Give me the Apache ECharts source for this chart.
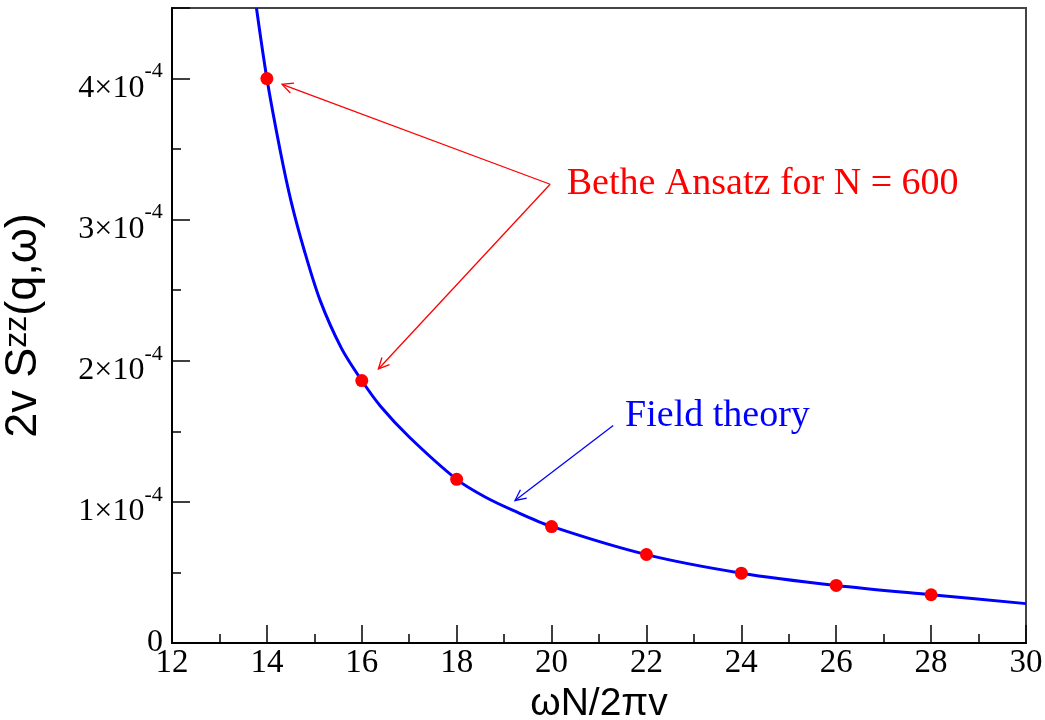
<!DOCTYPE html>
<html>
<head>
<meta charset="utf-8">
<script src="https://cdn.jsdelivr.net/npm/echarts@6/dist/echarts.min.js"></script>
<style>
  html, body { margin: 0; padding: 0; background: #fff; }
  #chart { width: 1045px; height: 720px; }
</style>
</head>
<body>
<div id="chart"></div>
<script>
// values on the y axis are in units of 1e-4
const betheX = [14, 16, 18, 20, 22, 24, 26, 28];
const betheY = [4.00, 1.86, 1.16, 0.825, 0.627, 0.495, 0.408, 0.342];

const fieldX = [13.78, 14.0, 14.28, 14.51, 14.79, 15.12, 15.57, 16.0, 16.39, 17.0, 18.0, 18.6, 19.19, 20.0, 22.0, 24.0, 26.0, 28.0, 30.0];
const fieldY = [4.50, 4.00, 3.49, 3.13, 2.78, 2.43, 2.09, 1.86, 1.68, 1.46, 1.16, 1.035, 0.94, 0.826, 0.626, 0.495, 0.408, 0.342, 0.279];

// annotation arrows: [fromX, fromY, toX, toY, colour]
const arrows = [
  [19.97, 3.251, 14.32, 3.959, '#ff0000'],
  [19.97, 3.251, 16.35, 1.942, '#ff0000'],
  [21.30, 1.541, 19.23, 1.010, '#0000ff'],
];
// annotation texts: [x, y, text, colour]
const notes = [
  [20.32, 3.25, 'Bethe Ansatz for N = 600', '#ff0000'],
  [21.55, 1.61, 'Field theory', '#0000ff'],
];

const serif = '"Liberation Serif", "Times New Roman", serif';
const sans = '"Liberation Sans", Arial, sans-serif';

const chart = echarts.init(document.getElementById('chart'));

chart.setOption({
  animation: false,
  grid: {
    left: 172, right: 19, top: 8, bottom: 77,
    outerBoundsMode: 'none',
    containLabel: false,
    show: true, borderColor: '#444', borderWidth: 2,
  },
  xAxis: {
    type: 'value', min: 12, max: 30, interval: 2,
    name: 'ωN/2πv',
    nameLocation: 'middle',
    nameGap: 40,
    nameTextStyle: { fontFamily: sans, fontSize: 39, color: '#000' },
    axisLine: { show: true, onZero: false, lineStyle: { color: '#000', width: 2 } },
    axisTick: { show: true, inside: true, length: 18, lineStyle: { color: '#000', width: 1.5 } },
    minorTick: { show: true, splitNumber: 2, length: 9, lineStyle: { color: '#000', width: 1.5 } },
    splitLine: { show: false },
    axisLabel: { fontFamily: serif, fontSize: 33, color: '#000', margin: 4 },
  },
  yAxis: {
    type: 'value', min: 0, max: 4.5, interval: 1,
    name: '{m|2v S}{s|zz}{m|(q,ω)}',
    nameLocation: 'middle',
    nameRotate: 90,
    nameGap: 126,
    nameTextStyle: {
      color: '#000',
      rich: {
        m: { fontFamily: sans, fontSize: 45, color: '#000', verticalAlign: 'bottom', lineHeight: 45 },
        s: { fontFamily: sans, fontSize: 32, color: '#000', verticalAlign: 'top', lineHeight: 32 },
      },
    },
    axisLine: { show: true, lineStyle: { color: '#000', width: 2 } },
    axisTick: { show: true, inside: true, length: 18, lineStyle: { color: '#000', width: 1.5 } },
    minorTick: { show: true, splitNumber: 2, length: 9, lineStyle: { color: '#000', width: 1.5 } },
    splitLine: { show: false },
    axisLabel: {
      margin: 9,
      padding: [8, 0, 0, 0],
      formatter: v => {
        if (v === 0) return '{z|0}';
        if (v > 4) return '';
        return `{b|${v}×10}{s|-4}{p| }`;
      },
      rich: {
        b: { fontFamily: serif, fontSize: 32, color: '#000', verticalAlign: 'bottom', lineHeight: 32 },
        s: { fontFamily: serif, fontSize: 22, color: '#000', verticalAlign: 'top', lineHeight: 22 },
        p: { fontSize: 1, lineHeight: 44, verticalAlign: 'middle' },
        z: { fontFamily: serif, fontSize: 32, color: '#000', padding: [0, 0, 8, 0] },
      },
    },
  },
  series: [
    {
      name: 'Field theory',
      type: 'line',
      smooth: 0.3,
      showSymbol: false,
      clip: true,
      lineStyle: { color: '#0000ff', width: 3 },
      data: fieldX.map((x, i) => [x, fieldY[i]]),
      z: 2,
    },
    {
      name: 'Bethe Ansatz',
      type: 'scatter',
      symbol: 'circle',
      symbolSize: 13,
      itemStyle: { color: '#ff0000', opacity: 1 },
      data: betheX.map((x, i) => [x, betheY[i]]),
      z: 3,
    },
    {
      name: 'arrows',
      type: 'custom',
      silent: true,
      data: arrows.map(a => [a[0], a[1], a[2], a[3]]),
      encode: { x: [0, 2], y: [1, 3] },
      renderItem: (params, api) => {
        const p0 = api.coord([api.value(0), api.value(1)]);
        const p1 = api.coord([api.value(2), api.value(3)]);
        const color = arrows[params.dataIndex][4];
        const ang = Math.atan2(p1[1] - p0[1], p1[0] - p0[0]);
        const len = 12, spread = 0.45;
        const h1 = [p1[0] - len * Math.cos(ang - spread), p1[1] - len * Math.sin(ang - spread)];
        const h2 = [p1[0] - len * Math.cos(ang + spread), p1[1] - len * Math.sin(ang + spread)];
        return {
          type: 'group',
          children: [
            { type: 'line', shape: { x1: p0[0], y1: p0[1], x2: p1[0], y2: p1[1] }, style: { stroke: color, lineWidth: 1.3 } },
            { type: 'polyline', shape: { points: [h1, p1, h2] }, style: { stroke: color, lineWidth: 1.3, fill: null } },
          ],
        };
      },
      z: 4,
    },
  ],
});

chart.setOption({
  graphic: notes.map(n => {
    const p = chart.convertToPixel({ gridIndex: 0 }, [n[0], n[1]]);
    return {
      type: 'text',
      x: p[0], y: p[1],
      style: { text: n[2], fill: n[3], font: `38px ${serif}`, verticalAlign: 'middle', align: 'left' },
      z: 10,
    };
  }),
});
</script>
</body>
</html>
